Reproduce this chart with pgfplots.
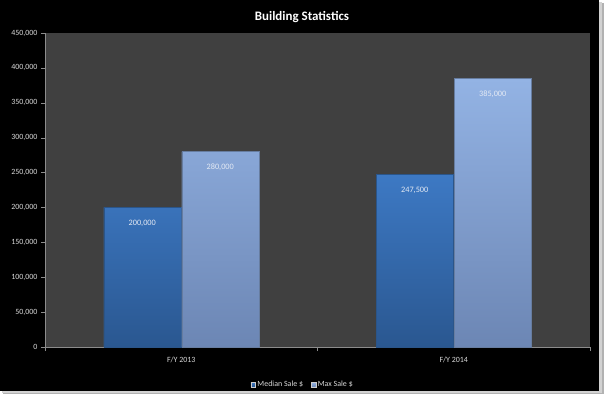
\documentclass[border=0pt]{standalone}
\usepackage{pgfplots}
\pgfplotsset{compat=1.18}
\usepackage{fontspec}
\setmainfont{Carlito}
\definecolor{plotbg}{HTML}{404040}
\definecolor{axisgray}{HTML}{8C8C8C}
\definecolor{ticktext}{HTML}{D9D9D9}
\definecolor{medtop}{HTML}{3D79C4}
\definecolor{medbot}{HTML}{2A5790}
\definecolor{maxtop}{HTML}{93B3E4}
\definecolor{maxbot}{HTML}{6C86B4}
\definecolor{labeltext}{HTML}{E4EAF4}
\begin{document}
\begin{tikzpicture}[x=1bp,y=1bp]
\fill[white] (0,0) rectangle (604,394);
\fill[gray!60] (3,0) rectangle (604,391);
\fill[gray!35] (2,1) rectangle (602,392);
\fill[black] (0,3) rectangle (599,394);
\node[font=\bfseries\fontsize{13}{15}\selectfont, text=white] at (302,377) {Building Statistics};
\begin{axis}[
  at={(45bp,47bp)}, anchor=south west,
  scale only axis, width=545bp, height=314bp,
  axis background/.style={fill=plotbg},
  ybar=1bp, bar width=77bp,
  xmin=-0.5, xmax=1.5,
  ymin=0, ymax=450000,
  xtick={0,1}, xticklabels={F/Y 2013, F/Y 2014},
  minor xtick={-0.5,0.5,1.5},
  ytick={0,50000,...,450000},
  major x tick style={draw=none},
  minor tick length=4bp,
  major tick length=4bp,
  tick align=outside,
  tick style={draw=axisgray},
  axis x line*=bottom, axis y line*=left,
  axis line style={draw=axisgray, line width=0.8pt},
  every outer x axis line/.append style={-}, every outer y axis line/.append style={-},
  scaled y ticks=false,
  /pgf/number format/assume math mode=true,
  yticklabel style={/pgf/number format/.cd, fixed, 1000 sep={,}},
  ticklabel style={font=\fontsize{8}{9}\selectfont, text=ticktext},
  xticklabel style={yshift=-2bp},
  nodes near coords,
  nodes near coords style={font=\fontsize{8.3}{9}\selectfont, text=labeltext, anchor=north, yshift=-9bp, /pgf/number format/.cd, fixed, 1000 sep={,}},
  nodes near coords align={below},
  legend style={at={(0.473,-0.095)}, anchor=north, draw=none, fill=none, legend columns=2,
    font=\fontsize{8}{9}\selectfont, text=ticktext,
    /tikz/every even column/.append style={column sep=6bp}},
  legend image code/.code={\fill[#1, draw=gray!40, line width=0.3pt] (-1.5bp,-2.2bp) rectangle (2.9bp,2.2bp);},
]
\addplot[shading=axis, top color=medtop, bottom color=medbot, draw=medtop!70!black, fill=medtop] coordinates {(0,200000) (1,247500)};
\addplot[shading=axis, top color=maxtop, bottom color=maxbot, draw=maxtop!70!black, fill=maxtop] coordinates {(0,280000) (1,385000)};
\legend{Median Sale \$, Max Sale \$}
\end{axis}
\end{tikzpicture}
\end{document}
